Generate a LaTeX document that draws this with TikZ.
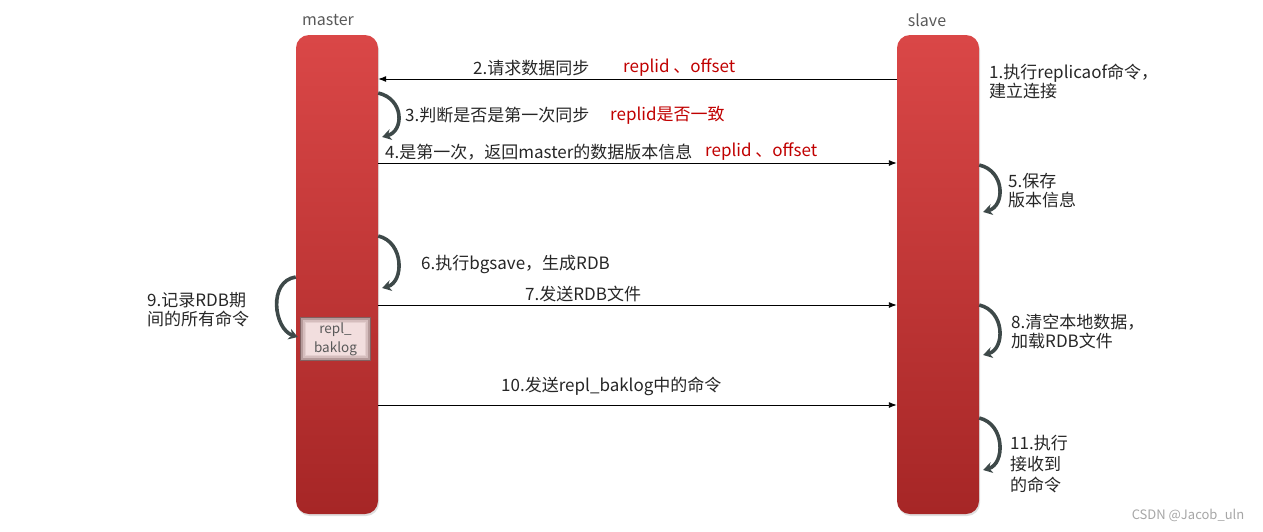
\documentclass[tikz,border=0pt]{standalone}
\usepackage{fontspec}
\setmainfont{Noto Sans CJK SC}
\usetikzlibrary{calc,shadows,arrows.meta}
\definecolor{bartop}{HTML}{DA4747}
\definecolor{barbot}{HTML}{A62626}
\definecolor{txt}{HTML}{262626}
\definecolor{redt}{HTML}{C00000}
\definecolor{curve}{HTML}{3E4949}
\definecolor{lbl}{HTML}{595959}
\definecolor{boxin}{HTML}{F2DEDE}
\definecolor{boxedge}{HTML}{6E4A4A}
\begin{document}
\begin{tikzpicture}[x=1pt,y=-1pt,
  bar/.style={draw=none, rounded corners=13pt, minimum width=82pt, minimum height=479pt,
    top color=bartop, bottom color=barbot, inner sep=0pt,
    drop shadow={opacity=0.25, shadow xshift=1pt, shadow yshift=-2pt}},
  head/.style={text=lbl, font=\fontsize{16}{19}\selectfont},
  lab/.style={text=txt, font=\fontsize{17}{19}\selectfont, inner sep=0pt, anchor=west, align=left, yshift=-2pt},
  redlab/.style={lab, text=redt},
  msg/.style={draw=black, line width=0.9pt, -{Latex[length=8pt,width=6pt]}},
  curv/.style={draw=curve, line width=3.6pt, -{Stealth[length=9pt,width=11pt]}},
  bufbox/.style={draw=none, fill=boxin, minimum width=71pt, minimum height=44pt, inner sep=0pt,
    text=lbl, align=center, font=\fontsize{13.5}{19}\selectfont},
  glow/.style={draw=boxedge, line width=1.6pt}
]
\useasboundingbox (0,0) rectangle (1263,531);

% bars
\node[bar] (master) at (337,274.5) {};
\node[bar] (slave) at (938,274.5) {};
\node[head] (mlabel) at (328,20) {master};
\node[head] (slabel) at (927,20) {slave};

% repl_baklog buffer
\node[bufbox] (buf) at (335.5,339) {};
\foreach \d/\o in {0.8/0.85,2.4/0.45,4.0/0.22,5.6/0.1}
  \draw[glow, opacity=\o] ($(buf.north west)+(\d,\d)$) rectangle ($(buf.south east)+(-\d,-\d)$);
\node[text=lbl, align=center, font=\fontsize{13.5}{19}\selectfont] (buftext) at (buf.center) {repl\_\\baklog};

% message arrows
\draw[msg] (slave.west |- 0,79) -- (master.east |- 0,79);
\draw[msg] (master.east |- 0,163) -- (slave.west |- 0,163);
\draw[msg] (master.east |- 0,305) -- (slave.west |- 0,305);
\draw[msg] (master.east |- 0,405) -- (slave.west |- 0,405);

% self arrows
\draw[curv] (master.east |- 0,93) .. controls +(26,6) and +(22,-6) .. ($(master.east |- 0,137)+(4,0)$);
\draw[curv] (master.east |- 0,236) .. controls +(26,6) and +(22,-6) .. ($(master.east |- 0,288)+(4,0)$);
\draw[curv] (slave.east |- 0,165) .. controls +(26,6) and +(22,-6) .. ($(slave.east |- 0,212)+(4,0)$);
\draw[curv] (slave.east |- 0,305) .. controls +(26,6) and +(22,-6) .. ($(slave.east |- 0,355)+(4,0)$);
\draw[curv] (slave.east |- 0,418) .. controls +(26,6) and +(22,-6) .. ($(slave.east |- 0,470)+(4,0)$);
\draw[curv] (master.west |- 0,277) .. controls +(-28,4) and +(-24,-8) .. ($(buf.west |- 0,337)+(-2,0)$);

% labels
\node[lab] (l2) at (473,66) {2.请求数据同步};
\node[redlab] (r2) at (623,66) {replid 、offset};
\node[lab] (l3) at (405,113) {3.判断是否是第一次同步};
\node[redlab] (r3) at (610,113) {replid是否一致};
\node[lab] (l4) at (385,150) {4.是第一次，返回master的数据版本信息};
\node[redlab] (r4) at (705,150) {replid 、offset};
\node[lab] (l1) at (989,79.5) {1.执行replicaof命令，\\建立连接};
\node[lab] (l5) at (1008,189) {5.保存\\版本信息};
\node[lab] (l6) at (421,262) {6.执行bgsave，生成RDB};
\node[lab] (l7) at (525,292) {7.发送RDB文件};
\node[lab] (l8) at (1011,329.5) {8.清空本地数据，\\加载RDB文件};
\node[lab] (l9) at (147,307.5) {9.记录RDB期\\间的所有命令};
\node[lab] (l10) at (501,384) {10.发送repl\_baklog中的命令};
\node[lab, font=\fontsize{17}{21}\selectfont] (l11) at (1010,462) {11.执行\\接收到\\的命令};

\node[text=gray!70, font=\fontsize{13}{15}\selectfont] (wm) at (1188,515) {CSDN @Jacob\_uln};
\end{tikzpicture}
\end{document}
